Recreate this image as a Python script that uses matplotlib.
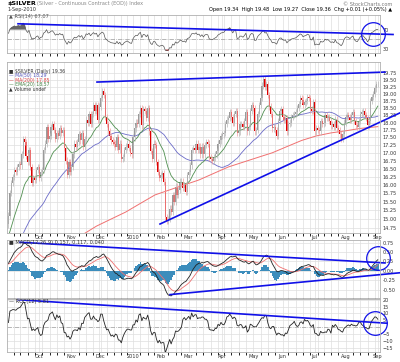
import numpy as np
import pandas as pd
import matplotlib
matplotlib.use("Agg")
import matplotlib.pyplot as plt
from matplotlib.ticker import FixedLocator, NullLocator, FixedFormatter

# closes before the chart window (warm-up for the indicators), Jun 19 - Aug 31 2009
pre_close = [14.30, 13.90, 13.70, 13.90, 14.00, 14.00, 13.90, 13.60, 13.70, 13.30,
             13.10, 13.00, 12.75, 12.80, 12.90, 12.90, 13.10, 13.50, 13.50, 13.60,
             13.70, 13.90, 13.90, 13.90, 13.95, 13.90, 13.60, 13.50, 13.80, 14.00,
             14.50, 14.70, 14.70, 14.70, 14.40, 14.50, 14.60, 14.70, 14.90, 14.60,
             14.10, 14.30, 14.40, 14.60, 14.60, 14.60, 14.60, 14.50, 14.60, 14.80, 14.70]

# daily closes, 1-Sep-2009 .. 1-Sep-2010
close = [
    # Sep 2009
    15.10, 15.75, 16.05, 16.25, 16.45, 16.40, 16.55, 16.65, 16.60, 16.95, 17.45,
    17.35, 16.90, 16.70, 17.10, 16.55, 16.05, 16.20, 16.15, 16.45, 16.55,
    # Oct
    16.20, 16.40, 16.45, 17.10, 17.30, 17.85, 17.45, 17.55, 17.85, 17.95, 17.75,
    17.45, 17.65, 17.55, 17.80, 17.65, 17.75, 17.15, 16.75, 16.30, 16.70, 16.40,
    # Nov
    16.55, 16.95, 17.30, 17.20, 17.35, 17.60, 17.40, 17.65, 17.20, 17.45,
    18.10, 18.00, 18.30, 17.95, 18.30, 18.60, 18.40, 18.60, 18.10, 18.55,
    # Dec
    18.85, 19.10, 18.95, 18.20, 17.95, 17.70, 17.55, 17.40, 17.35, 17.30, 17.20,
    17.50, 17.10, 17.30, 16.80, 16.85, 17.10, 17.20, 17.30, 17.15, 17.00, 16.95,
    # Jan 2010
    17.50, 17.80, 18.00, 17.95, 18.30, 18.50, 17.90, 18.45, 18.40, 18.15,
    18.50, 17.70, 17.05, 16.80, 17.30, 17.25, 16.70, 16.40, 16.20,
    # Feb
    16.30, 16.35, 16.10, 15.05, 14.95, 15.00, 15.30, 15.20, 15.70, 15.50,
    15.95, 15.70, 15.85, 16.10, 16.10, 15.90, 16.00, 15.80, 16.30,
    # Mar
    16.40, 16.60, 17.10, 17.15, 17.10, 17.30, 17.10, 17.20, 16.95, 17.20, 16.95, 17.25,
    17.35, 17.30, 16.85, 16.80, 16.75, 16.85, 16.95, 17.05, 17.30, 17.40, 17.55,
    # Apr
    17.60, 17.65, 17.95, 18.10, 18.15, 18.35, 18.20, 18.00, 18.30, 18.40, 17.65,
    17.70, 17.95, 17.95, 17.85, 18.05, 18.35, 17.70, 17.85, 18.40, 18.60,
    # May
    18.50, 17.70, 17.75, 18.30, 18.60, 18.85, 19.30, 19.55, 19.25, 19.35,
    18.95, 18.55, 18.30, 17.80, 17.85, 17.75, 17.55, 18.05, 18.40, 18.45,
    # Jun
    18.20, 18.10, 18.15, 17.70, 17.95, 18.00, 18.20, 18.25, 18.30, 18.35, 18.50,
    18.65, 18.85, 18.80, 18.60, 18.70, 18.75, 18.90, 18.85, 18.45, 18.40, 18.70,
    # Jul
    17.70, 17.80, 17.75, 17.70, 18.05, 17.95, 18.00, 18.25, 18.15, 18.20, 18.05,
    17.90, 17.95, 17.85, 18.10, 17.80, 17.75, 17.60, 17.45, 17.60, 18.00,
    # Aug
    18.20, 18.25, 18.20, 18.10, 18.25, 18.35, 18.05, 17.90, 17.85, 18.05, 18.30,
    18.35, 18.40, 18.25, 18.15, 17.90, 18.05, 18.75, 18.90, 19.00, 19.20, 19.35,
    # Sep 1
    19.36,
]
first_open = 14.85
wick = 0.006

# 200-day MA (every 10 sessions from session 50)
ma200_idx = [50, 60, 70, 80, 90, 100, 110, 120, 130, 140, 150, 160, 170, 180,
             190, 200, 210, 220, 230, 240, 250, 252]
ma200_val = [14.55, 14.80, 15.00, 15.20, 15.45, 15.70, 15.85, 16.00, 16.15, 16.35,
             16.55, 16.70, 16.85, 17.00, 17.20, 17.40, 17.55, 17.65, 17.72, 17.80,
             17.85, 17.86]

holidays = ["2009-09-07", "2009-11-26", "2009-12-25", "2010-01-01", "2010-01-18",
            "2010-02-15", "2010-04-02", "2010-05-31", "2010-07-05"]
month_names = ["Oct", "Nov", "Dec", "2010", "Feb", "Mar", "Apr", "May", "Jun",
               "Jul", "Aug", "Sep"]
price_ticks = [14.75, 15.00, 15.25, 15.50, 15.75, 16.00, 16.25, 16.50, 16.75, 17.00,
               17.25, 17.50, 17.75, 18.00, 18.25, 18.50, 18.75, 19.00, 19.25, 19.50, 19.75]
macd_ticks = [-0.50, -0.25, 0.00, 0.25, 0.50, 0.75]
roc_ticks = [-15, -10, -5, 5, 10, 15, 20]
rsi_ticks = [30, 70]

# hand-drawn trend lines and circles (session index, value)
rsi_line = ([6.5, 262.4], [82, 60])
rsi_ring = (248.7, 60)
price_top = ([60.4, 256.9], [19.43, 19.80])
price_low = ([103.4, 267.1], [14.86, 18.33])
macd_top = ([7.9, 256.9], [0.76, 0.21])
macd_low = ([110.2, 267.1], [-0.63, -0.05])
macd_ring = (252.1, 0.34)
roc_line = ([6.5, 258.3], [20.0, 2.9])
roc_ring = (250.0, 2.9)

# ---- derived series
dates = pd.bdate_range("2009-09-01", "2010-09-01", freq="C", holidays=holidays)
n = min(len(dates), len(close))
dates = dates[:n]
close = np.array(close[:n])
idx = np.arange(n)
opens = np.concatenate([[first_open], close[:-1]])
highs = np.maximum(opens, close) * (1 + wick)
lows = np.minimum(opens, close) * (1 - wick)

full = pd.Series(pre_close + list(close))
k = len(pre_close)
ema20 = full.ewm(span=20, adjust=False).mean().values[k:]
ma50 = full.rolling(50, min_periods=1).mean().values[k:]
d = full.diff()
up = d.clip(lower=0).ewm(alpha=1 / 14, adjust=False).mean()
dn = (-d.clip(upper=0)).ewm(alpha=1 / 14, adjust=False).mean()
rsi = (100 - 100 / (1 + up / dn)).values[k:]
macd = (full.ewm(span=12, adjust=False).mean() - full.ewm(span=26, adjust=False).mean())
sig = macd.ewm(span=9, adjust=False).mean()
hist = (macd - sig).values[k:]
macd = macd.values[k:]
sig = sig.values[k:]
roc = (full.pct_change(12) * 100).values[k:]

month_pos = []
for m in range(1, 13):
    y, mo = (2009, 9 + m) if 9 + m <= 12 else (2010, 9 + m - 12)
    hit = np.where((dates.year == y) & (dates.month == mo))[0]
    month_pos.append(hit[0] if len(hit) else n)
week_pos = [i for i in range(1, n) if dates[i].weekday() < dates[i - 1].weekday()]

# ---- figure
W, H = 400, 362
fig = plt.figure(figsize=(W / 100, H / 100), dpi=100)


def panel(top, bottom):
    ax = fig.add_axes([7 / W, 1 - bottom / H, 373 / W, (bottom - top) / H])
    ax.set_xlim(-1, n + 0.5)
    ax.yaxis.tick_right()
    ax.tick_params(axis="both", length=0, labelsize=3.6, colors="#333333", pad=2)
    for s in ax.spines.values():
        s.set_color("#b0b0b0")
        s.set_linewidth(0.6)
    ax.set_xticks(month_pos)
    ax.set_xticks(week_pos, minor=True)
    ax.grid(True, which="both", color="#dedede", lw=0.5)
    ax.set_axisbelow(True)
    ax.set_xticklabels([])
    return ax


blue = "#1010e8"

# RSI
ax1 = panel(15, 53)
ax1.set_ylim(22, 100)
ax1.yaxis.set_major_locator(FixedLocator(rsi_ticks))
ax1.axhline(50, color="#999999", lw=0.5, ls="-.")
ax1.plot(idx, rsi, color="#555555", lw=0.5)
ax1.fill_between(idx, rsi, 70, where=rsi > 70, color="#666666", lw=0, interpolate=True)
ax1.fill_between(idx, rsi, 30, where=rsi < 30, color="#cc3333", lw=0, interpolate=True)
ax1.plot(*rsi_line, color=blue, lw=1.2, clip_on=False)
ax1.plot(*rsi_ring, "o", ms=17, mfc="none", mec=blue, mew=0.9, clip_on=False)

# price
ax2 = panel(62, 233)
ax2.set_yscale("log")
ax2.set_ylim(14.61, 20.18)
ax2.yaxis.set_major_locator(FixedLocator(price_ticks))
ax2.yaxis.set_major_formatter(FixedFormatter(["%.2f" % t for t in price_ticks]))
ax2.yaxis.set_minor_locator(NullLocator())
ax2.plot(ma200_idx, ma200_val, color="#f07070", lw=0.7)
ax2.plot(idx, ma50, color="#6b6bc8", lw=0.6)
ax2.plot(idx, ema20, color="#4f8f4f", lw=0.6)
down = close < opens
col = np.where(down, "#dd0000", "#9a9a9a")
wcol = np.where(down, "#f0a0a0", "#b8b8b8")
ax2.vlines(idx, lows, highs, colors=wcol, lw=0.5)
ax2.bar(idx, np.abs(close - opens), bottom=np.minimum(opens, close), width=0.8,
        color=col, lw=0)
ax2.plot(*price_top, color=blue, lw=1.2, clip_on=False)
ax2.plot(*price_low, color=blue, lw=1.2, clip_on=False)
ax2.set_xticklabels(month_names, fontsize=3.6, color="#333333")
ax2.tick_params(axis="x", pad=1.5)

# MACD
ax3 = panel(240, 298)
ax3.set_ylim(-0.72, 0.82)
ax3.yaxis.set_major_locator(FixedLocator(macd_ticks))
ax3.yaxis.set_major_formatter(FixedFormatter(["%.2f" % t for t in macd_ticks]))
ax3.bar(idx, hist * 1.4, width=1.0, color="#3c8dbc", lw=0)
ax3.plot(idx, sig, color="#f07070", lw=0.6)
ax3.plot(idx, macd, color="#222222", lw=0.6)
ax3.plot(*macd_top, color=blue, lw=1.2, clip_on=False)
ax3.plot(*macd_low, color=blue, lw=1.2, clip_on=False)
ax3.plot(*macd_ring, "o", ms=17, mfc="none", mec=blue, mew=0.9, clip_on=False)

# ROC
ax4 = panel(299, 352)
ax4.set_ylim(-18, 20.5)
ax4.yaxis.set_major_locator(FixedLocator(roc_ticks))
ax4.axhline(0, color="#999999", lw=0.5, ls="-.")
ax4.plot(idx, roc, color="#222222", lw=0.6)
ax4.plot(*roc_line, color=blue, lw=1.2, clip_on=False)
ax4.plot(*roc_ring, "o", ms=17, mfc="none", mec=blue, mew=0.9, clip_on=False)
ax4.set_xticklabels(month_names, fontsize=3.6, color="#333333")
ax4.tick_params(axis="x", pad=1.5)


def t(x, y, s, **kw):
    kw.setdefault("fontsize", 3.6)
    kw.setdefault("color", "#333333")
    fig.text(x / W, 1 - y / H, s, va="center", **kw)


t(7, 4, "$SILVER", fontsize=4.6, weight="bold", color="#000000")
t(37, 4, "(Silver - Continuous Contract (EOD)) Index", color="#888888")
t(7, 10, "1-Sep-2010")
t(392, 4, "© StockCharts.com", ha="right", color="#777777")
t(392, 10, "Open 19.34  High 19.48  Low 19.27  Close 19.36  Chg +0.01 (+0.05%) \u25b2",
  ha="right", color="#000000")
t(9, 16.5, "\u25b2 RSI(14) 67.07", color="#555555")
t(9, 71.5, "\u25a0 $SILVER (Daily) 19.36", fontsize=3.3)
t(9, 75.8, "\u2014 MA(50) 18.29", color="#5555bb", fontsize=3.3)
t(9, 80.1, "\u2014 MA(200) 17.85", color="#dd4444", fontsize=3.3)
t(9, 84.4, "\u2014 EMA(20) 18.57", color="#3f7f3f", fontsize=3.3)
t(9, 88.7, "\u25b2 Volume undef", fontsize=3.3)
t(9, 242.5, "\u25a0 MACD(12,26,9) 0.157, 0.117, 0.040")
t(9, 301.5, "\u2014 ROC(12) 5.81")

fig.savefig("out.png", dpi=100, facecolor="white")
